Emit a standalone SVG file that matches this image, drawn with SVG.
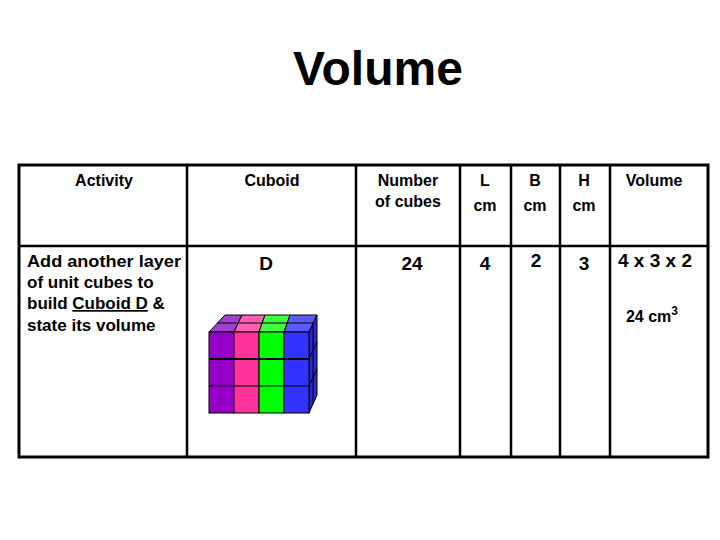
<svg xmlns="http://www.w3.org/2000/svg" width="720" height="540" viewBox="0 0 720 540">
<style>
text{font-family:"Liberation Sans",Arial,sans-serif;font-weight:bold;fill:#000}
.h{font-size:16px;text-anchor:middle}
.v{font-size:19px;text-anchor:middle}
.a{font-size:17px}
.g line{stroke:#000;stroke-width:2.5}
.c{stroke:#000;stroke-width:1}
</style>
<rect width="720" height="540" fill="#fff"/>
<text x="378" y="85" font-size="48" text-anchor="middle">Volume</text>
<g class="g" id="table">
<rect x="19" y="165" width="689" height="292" fill="none" stroke="#000" stroke-width="3"/>
<line x1="19" y1="246" x2="708" y2="246"/>
<line x1="187" y1="165" x2="187" y2="457"/>
<line x1="356" y1="165" x2="356" y2="457"/>
<line x1="460" y1="165" x2="460" y2="457"/>
<line x1="511" y1="165" x2="511" y2="457"/>
<line x1="560" y1="165" x2="560" y2="457"/>
<line x1="610" y1="165" x2="610" y2="457"/>
</g>
<g id="headers">
<text class="h" x="104" y="186">Activity</text>
<text class="h" x="272" y="186">Cuboid</text>
<text class="h" x="408" y="186">Number</text>
<text class="h" x="408" y="207">of cubes</text>
<text class="h" x="485" y="186">L</text>
<text class="h" x="485" y="211">cm</text>
<text class="h" x="535" y="186">B</text>
<text class="h" x="535" y="211">cm</text>
<text class="h" x="584" y="186">H</text>
<text class="h" x="584" y="211">cm</text>
<text class="h" x="654" y="186">Volume</text>
</g>
<g id="row">
<text class="a" x="27" y="267" textLength="154" lengthAdjust="spacingAndGlyphs">Add another layer</text>
<text class="a" x="27" y="288">of unit cubes to</text>
<text class="a" x="27" y="309">build <tspan text-decoration="underline">Cuboid D</tspan> &amp;</text>
<text class="a" x="27" y="331">state its volume</text>
<text class="v" x="266" y="270">D</text>
<text class="v" x="412" y="270">24</text>
<text class="v" x="485" y="270">4</text>
<text class="v" x="536" y="267">2</text>
<text class="v" x="584" y="270">3</text>
<text class="v" x="655" y="267">4 x 3 x 2</text>
<text class="h" x="652" y="322" font-size="18">24 cm<tspan font-size="12" dy="-7">3</tspan></text>
</g>
<g id="cuboid" class="c">
<polygon points="209,332 234,332 242,315 225,315" fill="#a040d0"/>
<polygon points="234,332 259,332 265,315 242,315" fill="#ff60b0"/>
<polygon points="259,332 284,332 290,315 265,315" fill="#40ff40"/>
<polygon points="284,332 309,332 317,315 290,315" fill="#5a5aff"/>
<line x1="217" y1="323" x2="313" y2="323"/>
<polygon points="309,332 317,315 317,395 309,413" fill="#2a2ad0"/>
<line x1="313" y1="323" x2="313" y2="404"/>
<line x1="309" y1="359" x2="317" y2="342"/>
<line x1="309" y1="386" x2="317" y2="369"/>
<rect x="209" y="332" width="25" height="81" fill="#9400c8"/>
<rect x="234" y="332" width="25" height="81" fill="#ff3399"/>
<rect x="259" y="332" width="25" height="81" fill="#00ff00"/>
<rect x="284" y="332" width="25" height="81" fill="#3333ff"/>
<line x1="209" y1="359" x2="309" y2="359" stroke-width="2"/>
<line x1="209" y1="386" x2="309" y2="386"/>
</g>
</svg>
